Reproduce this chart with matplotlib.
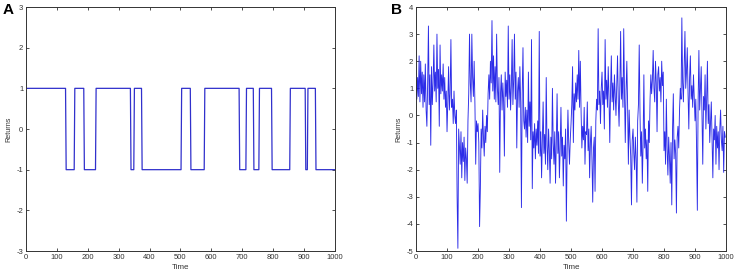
import numpy as np
import matplotlib
matplotlib.use("Agg")
import matplotlib.pyplot as plt

plt.rcParams['axes.unicode_minus'] = False
plt.rcParams['font.family'] = ['Liberation Sans', 'DejaVu Sans']

# ---------------- data ----------------
# Panel A: regime (+1 / -1) switch times
regime_start_value = 1
switch_times = [129, 157, 188, 226, 339, 350, 375, 503, 533, 578,
                691, 713, 737, 755, 796, 855, 905, 912, 938]
n_time = 1000

b_step = 2.5
returns_b = [
    1.3, 0.6, 1.4, 0.7, 2.2, 0.5, 2.0, 0.8, 1.6, 0.3, 1.5, 0.5, 1.9, 0.2, -0.4, 1.2, 3.3, 0.4, 1.5, -1.1,
    1.8, 0.4, 1.2, 2.6, 0.9, 1.6, 0.5, 3.0, 1.0, 1.7, -0.4, 2.6, 0.8, 1.5, 0.9, 1.9, 0.6, 1.4, 0.3, 0.9,
    -0.6, 0.5, 1.8, 0.2, 0.8, 2.8, 0.3, 0.6, -0.3, 0.9, 0.0, -0.3, 0.2, -3.0, -4.9, -0.5, -1.2, -1.8, -0.6, -2.3,
    -1.0, -1.7, -0.8, -2.4, -1.2, -1.6, -2.5, -0.2, 0.8, 3.0, 1.2, 0.5, 3.0, 1.4, 0.7, 2.0, 0.4, -1.8, -0.2, -0.6,
    -0.3, -1.0, -4.1, -2.7, -0.5, -1.2, 0.2, -0.8, -1.5, -0.4, -1.0, 0.0, -0.6, 0.8, 1.5, 0.6, 2.0, 1.2, 3.5, 0.9,
    2.2, 0.6, 1.8, 0.5, 3.0, 1.0, 0.4, 1.4, -2.1, 0.8, 1.5, 0.2, 1.2, 0.5, -1.5, 1.6, 0.7, 1.3, 0.3, 3.3,
    0.6, 1.5, 0.2, 1.1, 2.8, 0.4, 1.3, 3.0, 0.6, 1.6, -1.2, 0.9, 1.4, 0.3, 1.8, 0.5, -3.4, 0.8, 2.5, -0.2,
    -0.5, 0.3, -0.8, 0.2, -1.0, 1.6, -0.4, 0.5, -0.9, 2.8, -2.7, -0.6, -1.2, -0.3, -1.6, -0.5, -1.1, -0.2, -1.4, 3.1,
    -1.5, -0.6, -2.3, -0.9, 0.5, -1.4, -0.7, -1.8, 1.4, -1.1, -2.0, -0.5, -1.3, -2.5, -0.8, -1.6, 1.0, -1.0, -1.8, -0.6,
    -2.5, -1.0, 0.8, -1.4, -0.6, -2.3, -1.2, 0.3, -1.5, -0.8, -2.6, -1.1, -1.6, -0.5, -3.9, -1.3, 0.2, -1.0, -1.8, -0.9,
    -0.3, 0.4, 1.8, -1.0, 0.8, 0.2, 1.2, 0.5, 1.5, 0.6, 2.4, 0.3, 2.0, 0.1, -1.2, -0.4, -0.9, 0.3, -1.8, -0.6,
    -0.7, 0.5, -1.3, -0.5, -2.3, -1.0, -0.4, -1.6, -3.2, -1.2, -0.8, -2.8, -0.2, 0.6, 0.2, 3.2, 0.4, 0.9, -0.3, 1.0,
    1.6, 0.4, 0.9, -0.5, 2.8, 0.6, 1.3, 0.3, 1.8, 0.7, -1.0, 0.9, 2.2, 0.5, 1.2, 0.2, 1.5, 0.8, 0.0, 1.1,
    2.2, 0.5, -0.4, 1.1, 3.1, 0.6, 1.4, 0.3, 3.2, 0.8, -1.0, 0.9, 2.0, 0.4, -1.8, 0.2, -0.8, -1.5, -3.3, -0.9,
    -0.5, -1.4, -2.0, -0.8, -1.6, -3.2, -0.2, 0.4, 2.6, 0.1, -1.5, -0.6, -2.5, -1.0, 1.5, -1.2, -0.5, -1.6, -0.9, -2.8,
    -0.2, -1.0, 0.6, 1.5, 0.8, 1.3, 2.4, 1.0, 0.5, 2.0, 1.2, -0.6, 1.5, 1.8, 0.9, 1.4, 0.5, 2.0, 1.1, 1.6,
    -1.3, -0.6, -1.8, 0.6, -1.2, -2.2, -0.8, -1.5, -2.5, -1.0, -3.3, -0.5, 0.8, -1.6, -0.9, -1.4, -3.6, -0.8, -0.4, -1.2,
    0.2, 1.0, 0.6, 3.6, 1.2, 0.5, 1.8, 3.1, 1.0, 1.6, 2.5, 0.8, -0.5, 1.4, 2.2, 0.6, 1.1, 0.3, 1.5, 0.7,
    -0.2, 0.6, -1.2, -3.5, 0.5, 2.4, 0.2, 1.0, 1.8, 0.1, -1.8, 0.7, 0.2, 1.5, -0.5, 0.6, 2.0, -0.3, 0.4, -1.0,
    -0.3, 0.5, -1.0, -2.3, -0.5, -0.9, 0.0, -1.8, -0.4, -1.2, -0.6, -2.0, -0.5, 0.2, -0.9, -1.3, -0.4, -2.1, -0.6, -0.8,
]

x_ticks = list(range(0, 1001, 100))
y_ticks_a = list(range(-3, 4))
y_ticks_b = list(range(-5, 5))

# ---------------- build panel A series ----------------
t_a = np.arange(n_time + 1)
vals_a = np.empty(n_time + 1)
state = regime_start_value
prev = 0
for s in switch_times + [n_time + 1]:
    vals_a[prev:s] = state
    if s <= n_time:
        vals_a[s] = 0  # transition sample
    prev = s + 1
    state = -state

t_b = np.arange(len(returns_b)) * b_step

# ---------------- figure ----------------
fig = plt.figure(figsize=(7.37, 2.72), dpi=100)
line_a_color = '#3030cc'
line_b_color = '#1515e6'
axis_color = '#333333'

def style(ax, yt, ylim):
    ax.set_xlim(0, 1000)
    ax.set_ylim(*ylim)
    ax.set_xticks(x_ticks)
    ax.set_yticks(yt)
    ax.tick_params(direction='in', top=True, right=True, length=2.5,
                   width=0.6, labelsize=5.5, colors=axis_color, pad=2)
    for sp in ax.spines.values():
        sp.set_color(axis_color)
        sp.set_linewidth(0.7)
    ax.set_xlabel('Time', fontsize=5.8, labelpad=2, color=axis_color)
    ax.set_ylabel('Returns', fontsize=5.2, labelpad=3, color=axis_color)

axA = fig.add_axes([0.0353, 0.0772, 0.419, 0.897])
axA.plot(t_a, vals_a, color=line_a_color, lw=0.9)
style(axA, y_ticks_a, (-3, 3))

axB = fig.add_axes([0.5645, 0.0772, 0.4206, 0.897])
axB.plot(t_b, returns_b, color=line_b_color, lw=0.65, alpha=0.9)
style(axB, y_ticks_b, (-5, 4))

fig.text(0.003, 0.99, 'A', fontsize=11, fontweight='bold', va='top', ha='left')
fig.text(0.530, 0.99, 'B', fontsize=11, fontweight='bold', va='top', ha='left')

fig.savefig('out.png', dpi=100)
